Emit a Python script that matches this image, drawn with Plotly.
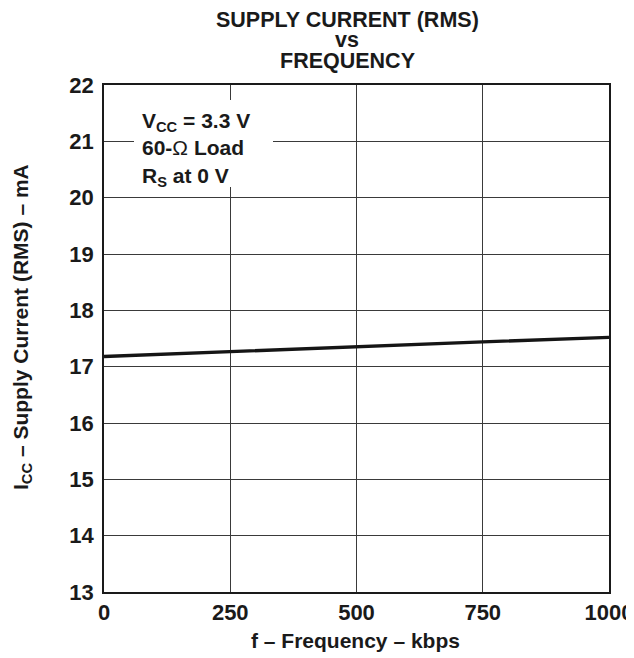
import plotly.graph_objects as go

# Data
freq_kbps = [0, 250, 500, 750, 1000]
icc_ma = [17.18, 17.27, 17.36, 17.44, 17.52]

x_ticks = [0, 250, 500, 750, 1000]
y_ticks = [13, 14, 15, 16, 17, 18, 19, 20, 21, 22]

title_lines = ["SUPPLY CURRENT (RMS)", "vs", "FREQUENCY"]
x_title = "f – Frequency – kbps"
y_title = "I<sub>CC</sub> – Supply Current (RMS) – mA"
note_text = ("V<sub>CC</sub> = 3.3 V<br>60-<span style='font-weight:normal'>Ω</span> Load"
             "<br>R<sub>S</sub> at 0 V")

FONT = "Arial, 'Liberation Sans', sans-serif"
INK = "#1a1a1a"

# The page body has an 8px margin; plot area target in window pixels:
# x 104..609, y 85..592
OFF = 8
PL, PR, PT, PB = 104, 609, 85, 592
PW, PH = PR - PL, PB - PT


def px(xw):
    return (xw - PL) / PW


def py(yw):
    return (PB - yw) / PH


fig = go.Figure()
fig.add_trace(go.Scatter(
    x=freq_kbps, y=icc_ma, mode="lines",
    line=dict(color="#151515", width=3.4),
    showlegend=False, hoverinfo="skip",
))

axis_common = dict(
    automargin=False,
    showgrid=True, gridcolor="#3a3a3a", gridwidth=1,
    showline=True, linecolor=INK, linewidth=1.5, mirror=True,
    zeroline=False,
    tickfont=dict(family=FONT, size=22, color=INK, weight="bold"),
)

fig.update_xaxes(range=[0, 1000], tickvals=x_ticks,
                 ticktext=[str(v) for v in x_ticks],
                 ticks="", **axis_common)
fig.update_yaxes(range=[13, 22], tickvals=y_ticks,
                 ticktext=[str(v) for v in y_ticks],
                 ticks="outside", ticklen=4, tickcolor="rgba(0,0,0,0)",
                 **axis_common)

annotations = []
title_y_px = [20, 40, 61]
for txt, ypx in zip(title_lines, title_y_px):
    annotations.append(dict(
        text=txt, xref="paper", yref="paper",
        x=px(347), y=py(ypx),
        xanchor="center", yanchor="middle", showarrow=False,
        font=dict(family=FONT, size=21.5, color=INK, weight="bold"),
    ))

annotations.append(dict(
    text=x_title, xref="paper", yref="paper",
    x=px(355), y=py(640),
    xanchor="center", yanchor="middle", showarrow=False,
    font=dict(family=FONT, size=21, color=INK, weight="bold"),
))
annotations.append(dict(
    text=y_title, xref="paper", yref="paper",
    x=px(22), y=py(327), textangle=-90,
    xanchor="center", yanchor="middle", showarrow=False,
    font=dict(family=FONT, size=21, color=INK, weight="bold"),
))
annotations.append(dict(
    text=note_text, xref="paper", yref="paper",
    x=px(140), y=py(149),
    xanchor="left", yanchor="middle", showarrow=False, align="left",
    font=dict(family=FONT, size=21, color=INK, weight="bold"),
))

# white box behind the condition note (hides the grid there)
shapes = [dict(
    type="rect", xref="paper", yref="paper",
    x0=px(134), x1=px(273), y0=py(187), y1=py(100),
    fillcolor="white", line=dict(width=0), layer="above",
)]

W, H = 634 - OFF, 658 - OFF
fig.update_layout(
    template="none",
    width=W, height=H,
    margin=dict(l=PL - OFF, r=W - (PR - OFF), t=PT - OFF, b=H - (PB - OFF), pad=0),
    paper_bgcolor="white", plot_bgcolor="white",
    annotations=annotations,
    shapes=shapes,
    showlegend=False,
)

fig.write_html("out.html")
